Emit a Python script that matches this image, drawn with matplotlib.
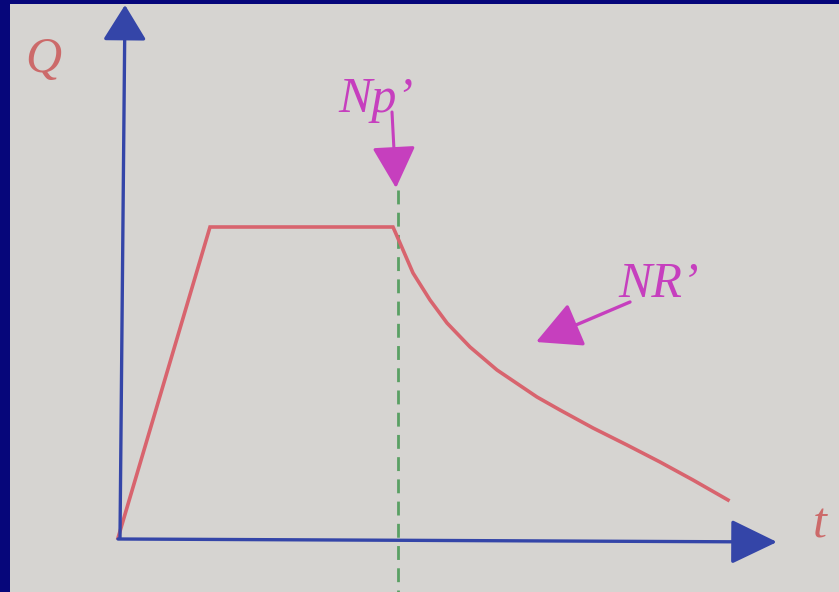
import numpy as np
import matplotlib
matplotlib.use("Agg")
from matplotlib import pyplot as plt
from matplotlib.patches import Rectangle

# hydrograph: linear rise, flat top, recession limb
t_rise = [0.0, 0.92]
q_rise = [0.0, 3.11]
t_flat = [0.92, 2.75]
q_flat = [3.11, 3.11]
t_fall = [2.75, 2.82, 2.95, 3.12, 3.29, 3.52, 3.79, 4.19, 4.42, 4.75, 5.09, 5.42, 5.75, 6.10]
q_fall = [3.11, 2.95, 2.65, 2.38, 2.15, 1.91, 1.68, 1.41, 1.28, 1.10, 0.93, 0.76, 0.58, 0.38]

t_np = 2.80      # time of Np'
t_max = 6.59     # end of time axis
q_max = 5.33     # end of Q axis

paper = '#d6d4d1'
navy = '#06067a'
axis_blue = '#3445a8'
red = '#d8646e'
magenta = '#c63fbe'
green = '#5aa064'

fig = plt.figure(figsize=(8.39, 5.92), dpi=100)
fig.patch.set_facecolor(navy)
ax = fig.add_axes([10 / 839, 0, 829 / 839, 588 / 592])
ax.set_facecolor(paper)
ax.set_xlim(-1.08, 7.21)
ax.set_ylim(-0.54, 5.34)
ax.axis('off')
ax.add_patch(Rectangle((0, 0), 1, 1, transform=ax.transAxes, facecolor=paper,
                       edgecolor='none', zorder=0))

# Np' dashed line
ax.plot([t_np, t_np], [3.48, -0.54], color=green, lw=2.0, ls=(0, (5, 3)), zorder=1)

# axes with arrow heads
ax.annotate('', xy=(t_max, -0.04), xytext=(0, -0.01),
            arrowprops=dict(arrowstyle='-|>,head_length=1.45,head_width=0.7',
                            color=axis_blue, lw=2.4, shrinkA=0, shrinkB=0,
                            mutation_scale=20), zorder=3)
ax.annotate('', xy=(0.07, q_max), xytext=(0.02, 0),
            arrowprops=dict(arrowstyle='-|>,head_length=1.1,head_width=0.68',
                            color=axis_blue, lw=2.4, shrinkA=0, shrinkB=0,
                            mutation_scale=20), zorder=3)

# hydrograph
ax.plot(t_rise + t_flat[1:] + t_fall[1:], q_rise + q_flat[1:] + q_fall[1:],
        color=red, lw=2.6, solid_joinstyle='miter', zorder=2)

# Np' marker
ax.annotate('', xy=(t_np - 0.02, 3.50), xytext=(2.74, 4.26),
            arrowprops=dict(arrowstyle='-|>,head_length=1.3,head_width=0.68',
                            color=magenta, lw=2.2, shrinkA=0, shrinkB=0,
                            mutation_scale=20), zorder=4)
ax.text(2.20, 4.26, 'Np\u2019', family='Liberation Serif', style='italic',
        fontsize=36, color=magenta, ha='left', va='baseline')

# NR' marker
ax.annotate('', xy=(4.18, 1.96), xytext=(5.12, 2.36),
            arrowprops=dict(arrowstyle='-|>,head_length=1.4,head_width=0.72',
                            color=magenta, lw=2.4, shrinkA=0, shrinkB=0,
                            mutation_scale=20), zorder=4)
ax.text(5.00, 2.41, 'NR\u2019', family='Liberation Serif', style='italic',
        fontsize=36, color=magenta, ha='left', va='baseline')

# axis labels
ax.text(-0.93, 4.66, 'Q', family='Liberation Serif', style='italic',
        fontsize=36, color='#cc6a6a', ha='left', va='baseline')
ax.text(6.95, 0.01, 't', family='Liberation Serif', style='italic',
        fontsize=36, color='#cc6a6a', ha='left', va='baseline')

fig.savefig('out.png', dpi=100, facecolor=navy)
